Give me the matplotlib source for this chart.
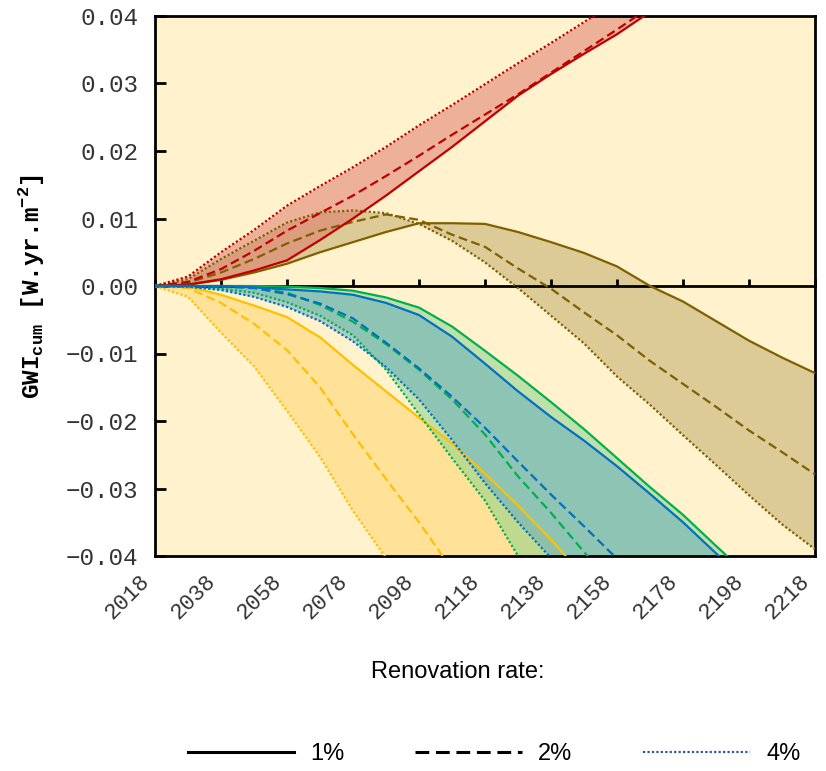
'''Cumulative GWI of the renovation scenarios, one band per building stock
scenario and one line style per renovation rate (1 %, 2 %, 4 %).'''

import numpy as np
import matplotlib
matplotlib.use('Agg')
import matplotlib.pyplot as plt
from matplotlib.lines import Line2D
from matplotlib.ticker import FuncFormatter
from matplotlib.transforms import ScaledTranslation

plt.rcParams['mathtext.fontset'] = 'custom'
plt.rcParams['mathtext.rm'] = 'Liberation Mono:bold'
plt.rcParams['mathtext.bf'] = 'Liberation Mono:bold'

# values, in 1e-3 W.yr.m-2
years = [2018, 2028, 2038, 2048, 2058, 2068, 2078, 2088, 2098, 2108, 2118,
         2128, 2138, 2148, 2158, 2168, 2178, 2188, 2198, 2208, 2218]

red_1 = [0, 0.2, 1.0, 2.3, 3.8, 6.8, 10.0, 13.4, 17.0, 20.6, 24.4, 28.2,
         31.4, 34.4, 37.3, 40.6, 44.0, 47.4, 50.8, 54.2, 57.6]
red_2 = [0, 0.6, 2.5, 5.2, 8.2, 10.8, 13.4, 16.3, 19.3, 22.4, 25.4, 28.4,
         31.6, 34.8, 38.0, 41.3, 44.6, 47.9, 51.2, 54.5, 57.8]
red_4 = [0, 1.4, 5.0, 8.3, 11.9, 14.8, 17.6, 20.6, 23.8, 26.8, 29.9, 33.0,
         36.0, 39.1, 42.2, 45.3, 48.4, 51.5, 54.6, 57.7, 60.8]

olive_1 = [0, 0.2, 0.9, 2.0, 3.3, 5.0, 6.5, 8.0, 9.3, 9.3, 9.2, 8.0, 6.5,
           4.9, 2.9, 0.0, -2.3, -5.2, -8.1, -10.6, -12.9]
olive_2 = [0, 0.5, 2.0, 4.0, 6.3, 8.2, 9.5, 10.6, 9.8, 7.6, 5.8, 2.6, -0.4,
           -3.9, -7.3, -11.1, -14.5, -17.9, -21.4, -24.6, -27.9]
olive_4 = [0, 1.0, 4.0, 6.7, 9.4, 10.9, 11.2, 10.8, 9.2, 6.7, 3.5, -0.3,
           -4.4, -8.5, -13.4, -17.6, -22.1, -26.5, -31.0, -35.3, -39.0]

yellow_1 = [0, -0.1, -1.3, -2.9, -4.6, -7.6, -11.7, -15.6, -19.5, -23.3,
            -27.8, -32.5, -37.6, -43.0, -48.5, -54, -60, -66, -72, -78, -84]
yellow_2 = [0, -0.3, -2.5, -5.6, -9.5, -15.0, -22.0, -28.6, -35.0, -42.0,
            -49, -56, -63, -70, -77, -84, -91, -98, -105, -112, -119]
yellow_4 = [0, -1.6, -6.9, -11.9, -18.5, -25.3, -33.3, -40.3, -48, -56,
            -64, -72, -80, -88, -96, -104, -112, -120, -128, -136, -144]

green_1 = [0, 0, 0, 0, -0.1, -0.3, -0.7, -1.7, -3.2, -6.0, -9.6, -13.3,
           -17.2, -21.2, -25.5, -29.8, -33.9, -38.5, -43.0, -47.5, -52.0]
green_2 = [0, 0, -0.1, -0.2, -1.0, -2.8, -5.3, -8.6, -12.4, -16.8, -22.0,
           -28.2, -33.6, -39.4, -45.0, -50, -55, -60, -65, -70, -75]
green_4 = [0, -0.1, -0.4, -1.0, -2.4, -4.4, -7.3, -12.4, -19.0, -25.5,
           -31.8, -40.0, -48, -56, -64, -72, -80, -88, -96, -104, -112]

blue_1 = [0, 0, 0, -0.2, -0.5, -0.8, -1.3, -2.5, -4.3, -7.5, -11.5, -15.6,
          -19.4, -22.9, -26.7, -30.8, -35.0, -39.6, -44.0, -48.5, -53.0]
blue_2 = [0, 0, -0.1, -0.3, -1.2, -2.6, -4.8, -8.4, -12.2, -16.4, -21.0,
          -26.0, -30.9, -35.6, -40.4, -45, -50, -55, -60, -65, -70]
blue_4 = [0, -0.1, -0.6, -1.6, -3.1, -5.2, -8.2, -12.0, -16.8, -22.8,
          -29.2, -35.0, -40.3, -46, -52, -58, -64, -70, -76, -82, -88]

# (line colour, band colour, 1 %, 2 %, 4 %)
groups = [
    ('#7F6000', '#BBA464', olive_1, olive_2, olive_4),
    ('#C00000', '#DD7268', red_1, red_2, red_4),
    ('#FFC000', '#FFD266', yellow_1, yellow_2, yellow_4),
    ('#00B050', '#81D288', green_1, green_2, green_4),
    ('#0070C0', '#5EA8C0', blue_1, blue_2, blue_4),
]

rate_labels = ['1%', '2%', '4%']
styles = ['-', (0, (4, 2)), (0, (1, 1))]
xticks = [2018, 2038, 2058, 2078, 2098, 2118, 2138, 2158, 2178, 2198, 2218]
scale = 1e-3


def minus_fmt(v, pos):
    s = '%.2f' % v
    if s == '-0.00':
        s = '0.00'
    return s.replace('-', '\u2212')


def plot_gwi():
    fig = plt.figure(figsize=(8.26, 7.71), dpi=100)
    ax = fig.add_axes([155/826, 1 - 556/771, 660/826, 540/771])
    ax.set_facecolor('#FFF2CC')

    for color, fill, s1, s2, s4 in groups:
        ax.fill_between(years, np.array(s1)*scale, np.array(s4)*scale,
                        color=fill, alpha=0.5, lw=0, zorder=1)

    for color, fill, s1, s2, s4 in groups:
        for s, ls in zip((s1, s2, s4), styles):
            ax.plot(years, np.array(s)*scale, color=color, ls=ls, lw=1.6,
                    zorder=3)

    ymin, ymax = -0.04, 0.04
    ax.set_xlim(2018, 2218)
    ax.set_ylim(ymin, ymax)

    ax.set_yticks(np.linspace(ymin, ymax, 9))
    ax.yaxis.set_major_formatter(FuncFormatter(minus_fmt))
    ax.tick_params(axis='y', direction='in', length=8, width=2, pad=12,
                   labelsize=17.5, labelfontfamily='Liberation Mono',
                   labelcolor='#333333')

    ax.set_xticks(xticks)
    ax.set_xticklabels([str(x) for x in xticks], rotation=45, ha='right',
                       va='center', rotation_mode='anchor')
    ax.tick_params(axis='x', length=0, pad=16, labelsize=16,
                   labelfontfamily='Liberation Mono', labelcolor='#333333')
    for lab in ax.get_xticklabels():
        lab.set_transform(lab.get_transform() +
                          ScaledTranslation(-6/72, 0, fig.dpi_scale_trans))

    for sp in ax.spines.values():
        sp.set_linewidth(2)

    # the zero line carries the year ticks
    zero = ax.secondary_xaxis((0 - ymin)/(ymax - ymin))
    zero.set_zorder(1.5)
    zero.set_xticks(xticks)
    zero.tick_params(direction='out', length=5, width=2, labeltop=False,
                     labelbottom=False)
    for sp in zero.spines.values():
        sp.set_linewidth(2)

    ax.set_ylabel(r'GWI$_{\mathbf{cum}}$ [W.yr.m$^{\mathbf{-2}}$]',
                  family='Liberation Mono', weight='bold', fontsize=17.5,
                  labelpad=14)

    fig.text(458/826, 1 - 672/771, 'Renovation rate:', ha='center',
             va='center', fontsize=17, family='Liberation Sans')

    handles = [Line2D([], [], color='black', lw=2.2, ls='-'),
               Line2D([], [], color='black', lw=2.2, ls=(0, (4.5, 2.2))),
               Line2D([], [], color='#2F5597', lw=1.6, ls=(0, (1, 1)))]
    fig.legend(handles, rate_labels, loc='center', ncol=3, frameon=False,
               bbox_to_anchor=(494/826, 1 - 754/771), handlelength=4.5,
               handletextpad=0.7, columnspacing=3.0,
               prop={'family': 'Liberation Sans', 'size': 17})

    fig.savefig('out.png', dpi=100, facecolor='white')


if __name__ == '__main__':
    plot_gwi()
